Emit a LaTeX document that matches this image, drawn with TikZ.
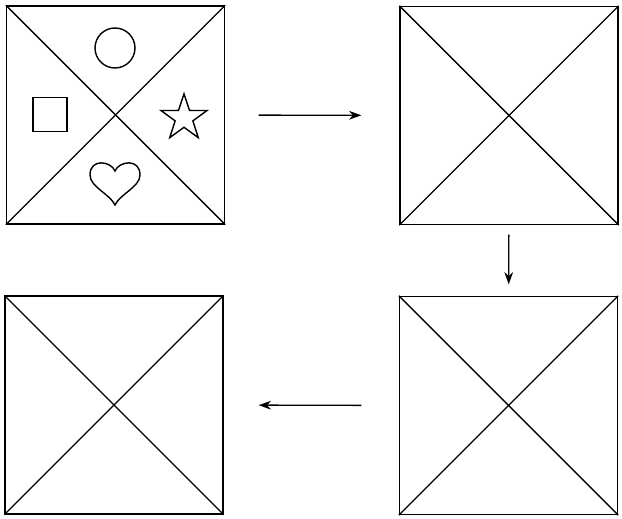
\documentclass[tikz,border=0pt]{standalone}
\usepackage{tikz}
\usetikzlibrary{arrows.meta,shapes.geometric}

\begin{document}
\begin{tikzpicture}[x=0.02cm,y=-0.02cm,line width=0.8pt,
  panel/.style={draw,minimum width=4.36cm,minimum height=4.36cm,inner sep=0pt},
  figure/.style={draw,inner sep=0pt},
  move/.style={-{Stealth[length=7pt,width=5pt]}}]
  \useasboundingbox (0,0) rectangle (622,519);
  \node[panel] (p1) at (115.5,115) {};
  \node[panel] (p2) at (509,115.5) {};
  \node[panel] (p3) at (508.5,405.5) {};
  \node[panel] (p4) at (114,405) {};
  \foreach \p in {p1,p2,p3,p4}{
    \draw (\p.north west) -- (\p.south east);
    \draw (\p.north east) -- (\p.south west);
  }
  \node[figure,circle,minimum size=0.8cm] (circ) at (115,48) {};
  \node[figure,minimum size=0.68cm] (sq) at (50,114.5) {};
  \node[figure,star,star points=5,star point ratio=2.6,minimum size=0.97cm] (star) at (184,118) {};
  \draw (115,171) .. controls (119,161) and (140,158) .. (140,175)
    .. controls (140,187) and (120,194) .. (115,205)
    .. controls (110,194) and (90,187) .. (90,175)
    .. controls (90,158) and (111,161) .. (115,171) -- cycle;
  \draw[move,shorten <=0.67cm,shorten >=0.76cm] (p1) -- (p2);
  \draw[move,shorten <=0.19cm,shorten >=0.23cm] (p2) -- (p3);
  \draw[move,shorten <=0.75cm,shorten >=0.7cm] (p3) -- (p4);
\end{tikzpicture}
\end{document}
